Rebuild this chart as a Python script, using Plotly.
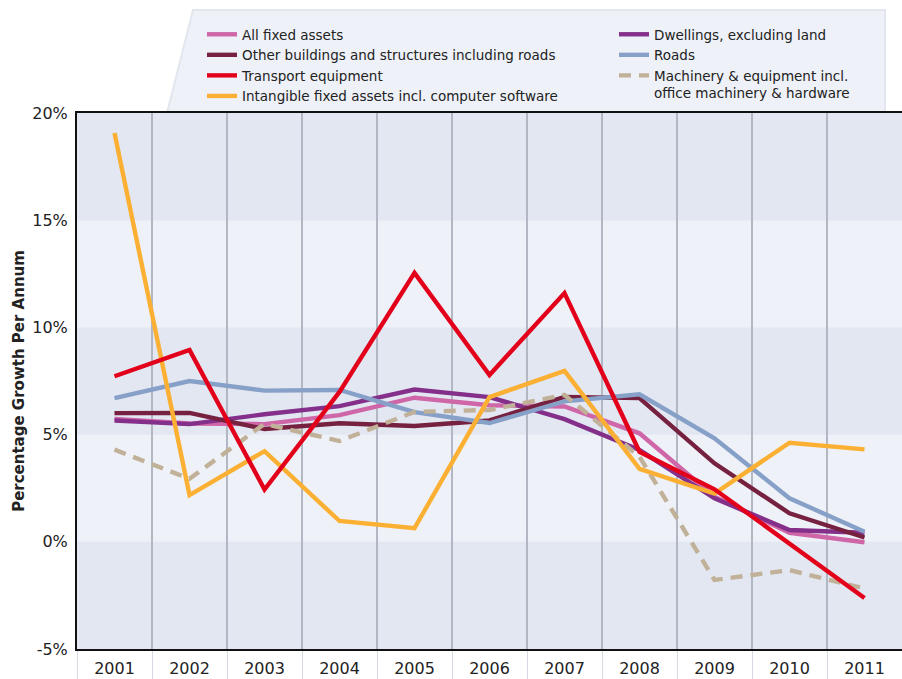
import plotly.graph_objects as go

years = ["2001", "2002", "2003", "2004", "2005", "2006", "2007", "2008", "2009", "2010", "2011"]

all_fixed = [5.73, 5.52, 5.49, 5.91, 6.72, 6.37, 6.31, 5.06, 2.10, 0.42, -0.02]
other_buildings = [6.00, 6.01, 5.26, 5.53, 5.40, 5.66, 6.76, 6.70, 3.66, 1.33, 0.20]
transport = [7.72, 8.95, 2.44, 6.99, 12.54, 7.78, 11.60, 4.20, 2.45, -0.07, -2.62]
intangible = [19.07, 2.18, 4.23, 0.97, 0.64, 6.75, 7.97, 3.40, 2.25, 4.62, 4.31]
dwellings = [5.66, 5.49, 5.95, 6.33, 7.10, 6.75, 5.72, 4.28, 2.03, 0.55, 0.42]
roads = [6.70, 7.50, 7.05, 7.08, 6.05, 5.54, 6.55, 6.88, 4.83, 2.03, 0.47]
machinery = [4.30, 2.94, 5.50, 4.70, 6.06, 6.15, 6.85, 3.97, -1.78, -1.32, -2.18]

ytick_vals = [-5, 0, 5, 10, 15, 20]
ytick_text = ["-5%", "0%", "5%", "10%", "15%", "20%"]

series = [
    # name, values, color, dash, legend, rank
    ("All fixed assets", all_fixed, "#cf66a8", "solid", "legend", 1),
    ("Dwellings, excluding land", dwellings, "#84308a", "solid", "legend2", 5),
    ("Other buildings and structures including roads", other_buildings, "#76213f", "solid", "legend", 2),
    ("Roads", roads, "#87a0c8", "solid", "legend2", 6),
    ("Machinery & equipment incl.<br>office machinery & hardware", machinery, "#c0b198", "12px,8px", "legend2", 7),
    ("Intangible fixed assets incl. computer software", intangible, "#fbb034", "solid", "legend", 4),
    ("Transport equipment", transport, "#e3001b", "solid", "legend", 3),
]

FONT = "DejaVu Sans"
TXT = "#222222"

fig = go.Figure()
for name, vals, color, dash, leg, rank in series:
    fig.add_trace(go.Scatter(
        x=years, y=vals, mode="lines", name=name,
        line=dict(color=color, width=4.4, dash=dash),
        legend=leg, legendrank=rank,
    ))

# background bands
DARK = "#e3e7f2"
LIGHT = "#eef1f8"
band_edges = ytick_vals
for i in range(len(band_edges) - 1):
    fig.add_shape(type="rect", xref="paper", yref="y", x0=0, x1=1,
                  y0=band_edges[i], y1=band_edges[i + 1],
                  fillcolor=DARK if i % 2 == 0 else LIGHT, line_width=0, layer="below")

W, H = 902, 679
L, T, B, R = 77, 113, 30, 0
pw, ph = W - L - R, H - T - B
def px(x):  # page x -> paper
    return (x - L) / pw
def py(y):  # page y -> paper
    return (H - B - y) / ph

path = (f"M {px(167)},{py(113)} L {px(193)},{py(10)} L {px(885)},{py(10)} "
        f"L {px(885)},{py(113)} Z")
fig.add_shape(type="path", xref="paper", yref="paper", path=path,
              fillcolor="#eef1f8", line=dict(color="#e2e6ef", width=2), layer="below")

fig.update_layout(
    width=W, height=H,
    margin=dict(l=L, r=R, t=T, b=B, autoexpand=False),
    paper_bgcolor="white",
    plot_bgcolor=DARK,
    font=dict(family=FONT, size=15, color=TXT),
    legend=dict(x=px(202), y=py(19), xanchor="left", yanchor="top",
                bgcolor="rgba(0,0,0,0)", font=dict(size=13.5, color=TXT),
                tracegroupgap=0, itemwidth=30),
    legend2=dict(x=px(614), y=py(19), xanchor="left", yanchor="top",
                 bgcolor="rgba(0,0,0,0)", font=dict(size=13.5, color=TXT),
                 tracegroupgap=0, itemwidth=30, valign="top"),
    xaxis=dict(type="category", tickson="boundaries", showgrid=True,
               gridcolor="#b3b7c3", gridwidth=1.5, range=[-0.5, 10.5],
               ticks="outside", ticklen=30, tickcolor="#d6dae3", tickwidth=1,
               ticklabelstandoff=4, automargin=False,
               showline=True, linecolor="#111111", linewidth=2, mirror=True,
               tickfont=dict(size=16, color=TXT), fixedrange=True),
    yaxis=dict(range=[-5, 20], tickvals=ytick_vals, ticktext=ytick_text,
               showgrid=False, zeroline=False, ticks="", ticklabelstandoff=4,
               automargin=False,
               showline=True, linecolor="#111111", linewidth=2, mirror=False,
               tickfont=dict(size=16, color=TXT),
               title=dict(text="<b>Percentage Growth Per Annum</b>", standoff=4,
                          font=dict(size=15, color=TXT)),
               fixedrange=True),
)

fig.write_html(
    "out.html",
    config={"displayModeBar": False},
    post_script="document.body.style.margin='0';document.body.style.overflow='hidden';",
)
